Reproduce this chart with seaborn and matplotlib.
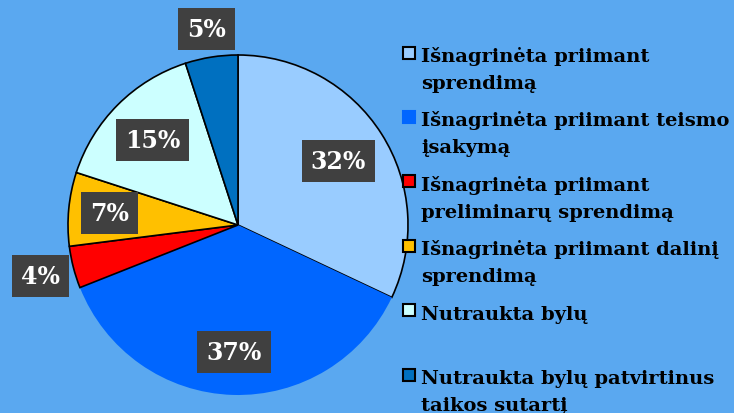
import numpy as np
import matplotlib
matplotlib.use("Agg")
import matplotlib.pyplot as plt
from matplotlib.patches import Rectangle
import seaborn as sns

sns.set_theme(style="white")
plt.rcParams['font.family'] = ['DejaVu Serif']

# data
categories = ["Išnagrinėta priimant\nsprendimą",
              "Išnagrinėta priimant teismo\nįsakymą",
              "Išnagrinėta priimant\npreliminarų sprendimą",
              "Išnagrinėta priimant dalinį\nsprendimą",
              "Nutraukta bylų",
              "Nutraukta bylų patvirtinus\ntaikos sutartį"]
shares = [32, 37, 4, 7, 15, 5]
colors = ["#99CCFF", "#0066FF", "#FF0000", "#FFC000", "#CCFFFF", "#0070C0"]
edges = ["black", "none", "black", "black", "black", "black"]
label_r = [0.70, 0.75, 1.20, 0.76, 0.71, 1.17]

bg = "#5AA8F0"
W, H = 734, 414
fig = plt.figure(figsize=(W / 100, H / 100), dpi=100, facecolor=bg)

# pie axes: centre (238,226) px, radius 170 px
R = 170
cx, cy = 238, 226
half = 1.25 * R
ax = fig.add_axes([(cx - half) / W, (H - cy - half) / H, 2 * half / W, 2 * half / H])
ax.set_facecolor(bg)

wedges, _ = ax.pie(shares, colors=colors, startangle=90, counterclock=False,
                   wedgeprops=dict(linewidth=1.2))
for w, ec in zip(wedges, edges):
    w.set_edgecolor(ec)
ax.set_xlim(-1.25, 1.25)
ax.set_ylim(-1.25, 1.25)
ax.set_aspect('equal')
ax.axis('off')

for w, v, r in zip(wedges, shares, label_r):
    ang = np.deg2rad((w.theta1 + w.theta2) / 2)
    ax.text(r * np.cos(ang), r * np.sin(ang), f"{v}%", ha='center', va='center',
            color='white', fontsize=17, fontweight='bold',
            bbox=dict(boxstyle='square,pad=0.38', fc='#404040', ec='none'))

# legend drawn by hand to keep marker on the first line
base0 = 62
step = 64.4
line_gap = 27
for i, (lab, col, ec) in enumerate(zip(categories, colors, edges)):
    y = base0 + i * step
    sq = 12
    fig.add_artist(Rectangle(((409 - sq / 2) / W, 1 - (y - 8.5 + sq / 2) / H), sq / W, sq / H,
                             transform=fig.transFigure, fc=col,
                             ec='black' if ec != 'none' else col, lw=1.5))
    for j, line in enumerate(lab.split("\n")):
        fig.text(421 / W, 1 - (y + j * line_gap) / H, line, ha='left', va='baseline',
                 fontsize=14, fontweight='bold', color='black')

fig.savefig("out.png", dpi=100, facecolor=bg)
